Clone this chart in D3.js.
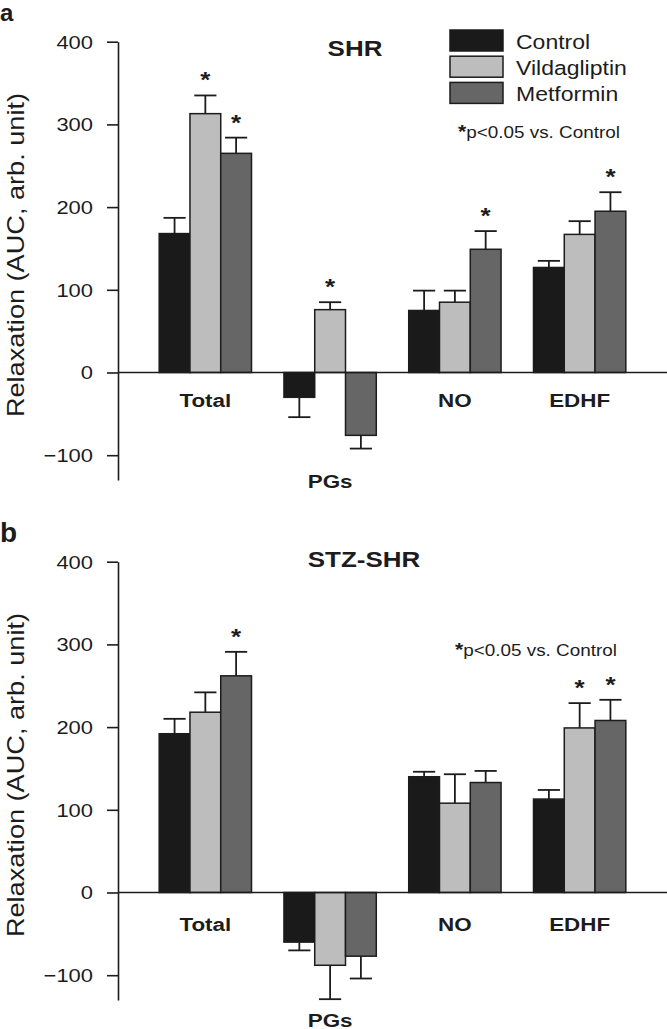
<!DOCTYPE html>
<html>
<head>
<meta charset="utf-8">
<script src="https://cdn.jsdelivr.net/npm/d3@7"></script>
<style>
  body { margin: 0; background: #fff; }
  svg { display: block; font-family: "Liberation Sans", Arial, sans-serif; }
</style>
</head>
<body>
<svg id="chart" width="667" height="1029"></svg>
<script>
const categories = ["Total", "PGs", "NO", "EDHF"];
const series = ["Control", "Vildagliptin", "Metformin"];
const yTicks = [-100, 0, 100, 200, 300, 400];

// panel a: SHR
const shrControl = [168, -30, 75, 127];
const shrControlErr = [19, 24, 24, 8];
const shrVilda = [313, 76, 85, 167];
const shrVildaErr = [22, 9, 14, 16];
const shrMetf = [265, -76, 149, 195];
const shrMetfErr = [19, 16, 22, 23];
const shrSig = [[0, 0, 0, 0], [1, 1, 0, 0], [1, 0, 1, 1]];

// panel b: STZ-SHR
const stzControl = [192, -60, 140, 113];
const stzControlErr = [18, 10, 6, 11];
const stzVilda = [218, -88, 108, 199];
const stzVildaErr = [24, 41, 35, 30];
const stzMetf = [262, -77, 133, 208];
const stzMetfErr = [29, 27, 14, 25];
const stzSig = [[0, 0, 0, 0], [0, 0, 0, 1], [1, 0, 0, 1]];

const colors = ["#1a1a1a", "#bdbdbd", "#666666"];
const ink = "#1c1c1c";
const SX = 1.18; // the source font runs wide

const svg = d3.select("#chart");
const axisX = 118;
const unit = 0.827;

const x = d3.scaleBand()
  .domain(categories)
  .range([axisX, 667])
  .paddingInner(0.26)
  .paddingOuter(0.33);

const xSub = d3.scaleBand()
  .domain(series)
  .range([0, x.bandwidth()]);

const panels = [
  {
    letter: "a", letterY: 21, title: "SHR", titleX: 355, titleY: 56, top: 41.7,
    noteX: 458, noteY: 138, catDy: 34.5, pgDy: 115, legend: true,
    means: [shrControl, shrVilda, shrMetf],
    errs: [shrControlErr, shrVildaErr, shrMetfErr],
    sig: shrSig
  },
  {
    letter: "b", letterY: 541.5, title: "STZ-SHR", titleX: 364, titleY: 566.5, top: 561.7,
    noteX: 455, noteY: 655.5, catDy: 38.5, pgDy: 134, legend: false,
    means: [stzControl, stzVilda, stzMetf],
    errs: [stzControlErr, stzVildaErr, stzMetfErr],
    sig: stzSig
  }
];

function wideText(g, str, px, py, size, opts = {}) {
  return g.append("text")
    .attr("transform", `translate(${px},${py})${opts.rotate ? " rotate(-90)" : ""} scale(${SX},1)`)
    .attr("text-anchor", opts.anchor || "start")
    .attr("font-size", size)
    .attr("font-weight", opts.bold ? 700 : 400)
    .attr("fill", ink)
    .text(str);
}

panels.forEach(p => {
  const g = svg.append("g");
  const y = d3.scaleLinear()
    .domain([-130, 400])
    .range([p.top + 530 * unit, p.top]);

  // panel letter
  g.append("text")
    .attr("x", 0)
    .attr("y", p.letterY)
    .attr("font-size", p.letter === "a" ? 24 : 28)
    .attr("font-weight", 700)
    .attr("fill", ink)
    .text(p.letter);

  // y axis
  const yAxis = g.append("g")
    .attr("transform", `translate(${axisX},0)`)
    .call(d3.axisLeft(y).tickValues(yTicks).tickSize(11).tickSizeOuter(0).tickFormat(d3.format("d")));
  yAxis.select(".domain").attr("stroke", ink).attr("stroke-width", 1.6);
  yAxis.selectAll(".tick line").attr("stroke", ink).attr("stroke-width", 1.6);
  yAxis.selectAll(".tick text")
    .attr("x", null)
    .attr("dy", "0.34em")
    .attr("transform", `translate(-25,0) scale(${SX},1)`)
    .attr("font-size", 18.6)
    .attr("font-family", "Liberation Sans, Arial, sans-serif")
    .attr("fill", ink);

  // y title
  const yMid = (y(400) + y(-130)) / 2 - 5.8;
  wideText(g, "Relaxation (AUC, arb. unit)", 23.5, yMid, 23, { rotate: true, anchor: "middle" });

  // bars
  series.forEach((s, si) => {
    categories.forEach((c, ci) => {
      const v = p.means[si][ci];
      const e = p.errs[si][ci];
      const bx = x(c) + xSub(s);
      const bw = xSub.bandwidth();
      const cx = bx + bw / 2;
      const tip = v >= 0 ? v + e : v - e;

      g.append("line")
        .attr("x1", cx).attr("x2", cx)
        .attr("y1", y(v)).attr("y2", y(tip))
        .attr("stroke", ink).attr("stroke-width", 1.8);
      g.append("line")
        .attr("x1", cx - bw * 0.36).attr("x2", cx + bw * 0.36)
        .attr("y1", y(tip)).attr("y2", y(tip))
        .attr("stroke", ink).attr("stroke-width", 1.8);

      g.append("rect")
        .attr("x", bx)
        .attr("y", Math.min(y(v), y(0)))
        .attr("width", bw)
        .attr("height", Math.abs(y(v) - y(0)))
        .attr("fill", colors[si])
        .attr("stroke", ink)
        .attr("stroke-width", 1.5);

      if (p.sig[si][ci]) {
        wideText(g, "*", cx, y(tip) - 8, 22, { bold: true, anchor: "middle" });
      }
    });
  });

  // zero line
  g.append("line")
    .attr("x1", axisX).attr("x2", 667)
    .attr("y1", y(0)).attr("y2", y(0))
    .attr("stroke", ink).attr("stroke-width", 1.6);

  // category labels
  categories.forEach(c => {
    const dy = c === "PGs" ? p.pgDy : p.catDy;
    wideText(g, c, x(c) + x.bandwidth() / 2, y(0) + dy, 19, { bold: true, anchor: "middle" });
  });

  // panel title and note
  wideText(g, p.title, p.titleX, p.titleY, 22, { bold: true, anchor: "middle" });
  const note = wideText(g, "", p.noteX, p.noteY, 16);
  note.append("tspan").attr("font-weight", 700).attr("font-size", 18).text("*");
  note.append("tspan").text("p<0.05 vs. Control");

  if (p.legend) {
    const leg = g.append("g");
    series.forEach((s, i) => {
      const ly = 30 + i * 26.2;
      leg.append("rect")
        .attr("x", 450).attr("y", ly)
        .attr("width", 53).attr("height", 21)
        .attr("fill", colors[i])
        .attr("stroke", ink)
        .attr("stroke-width", 1.5);
      wideText(leg, s, 516, ly + 18.5, 19.5);
    });
  }
});
</script>
</body>
</html>
